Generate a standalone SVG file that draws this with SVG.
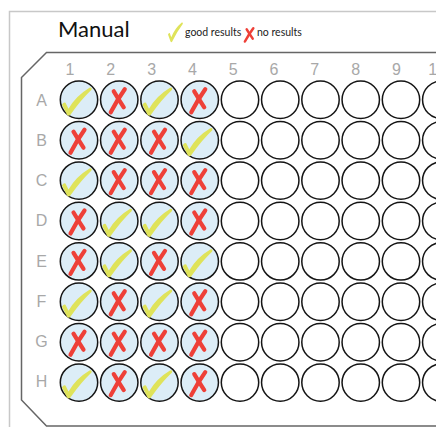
<svg xmlns="http://www.w3.org/2000/svg" xmlns:xlink="http://www.w3.org/1999/xlink" width="436" height="427" viewBox="0 0 436 427">
<style>
.frame{fill:none;stroke:#c8c8c8;stroke-width:1.5}
.plate{fill:none;stroke:#666;stroke-width:1.5}
.w{fill:#fff;stroke:#151515;stroke-width:1.5}
.f{fill:#dcedf7;stroke:#151515;stroke-width:1.5}
.lbl{font-family:"Liberation Sans",Arial,sans-serif;font-size:16px;fill:#a8a8a8;text-anchor:middle}
.title{font-family:Lato,"Open Sans",sans-serif;font-size:22px;fill:#111}
.leg{font-family:Lato,"Open Sans",sans-serif;font-size:10.5px;fill:#222}
.xs{fill:none;stroke:#ee4038;stroke-width:4.2;stroke-linecap:round}
.ck{fill:#dfe35a}
</style>
<defs>
<g id="check"><path class="ck" d="M -17 5 Q -15.5 2 -13.5 3 L -10.5 9 Q -3 -4 10.5 -12 Q 13.5 -13 12.5 -10 Q 2 0 -7.5 13.5 Q -9.5 17.5 -12 15 Z"/></g>
<g id="cross"><path class="xs" d="M 5.5 -10.5 Q -2 0 -8.5 12.5"/><path class="xs" d="M -5.5 -8.5 Q -1 -1 4.5 7.5"/></g>
</defs>
<rect class="frame" x="9.5" y="11.5" width="440" height="430"/>
<g id="title"><text class="title" x="58" y="36.7">Manual</text></g>
<g id="legend">
<use xlink:href="#check" transform="translate(176.5,31) scale(0.5,0.7)"/>
<text class="leg" x="185" y="36">good results</text>
<use xlink:href="#cross" transform="translate(250,34.3) scale(0.6,0.58)"/>
<text class="leg" x="257" y="36">no results</text>
</g>
<g id="plate"><path class="plate" d="M 445 52.5 L 46.5 52.5 L 21.5 77.5 L 21.5 400 L 46.5 426 L 445 426"/></g>
<g id="col-labels">
<text class="lbl" x="70" y="74.5">1</text><text class="lbl" x="110.8" y="74.5">2</text><text class="lbl" x="151.6" y="74.5">3</text><text class="lbl" x="192.4" y="74.5">4</text><text class="lbl" x="233.2" y="74.5">5</text><text class="lbl" x="274" y="74.5">6</text><text class="lbl" x="314.8" y="74.5">7</text><text class="lbl" x="355.6" y="74.5">8</text><text class="lbl" x="396.4" y="74.5">9</text><text class="lbl" x="437.2" y="74.5">10</text>
</g>
<g id="row-labels">
<text class="lbl" x="41.5" y="105.7">A</text><text class="lbl" x="41.5" y="145.95">B</text><text class="lbl" x="41.5" y="186.2">C</text><text class="lbl" x="41.5" y="226.45">D</text><text class="lbl" x="41.5" y="266.7">E</text><text class="lbl" x="41.5" y="306.95">F</text><text class="lbl" x="41.5" y="347.2">G</text><text class="lbl" x="41.5" y="387.45">H</text>
</g>
<g id="wells">
<g id="row-A">
<circle class="f" cx="79" cy="99.8" r="18.7"/><circle class="f" cx="119.25" cy="99.8" r="18.7"/><circle class="f" cx="159.5" cy="99.8" r="18.7"/><circle class="f" cx="199.75" cy="99.8" r="18.7"/>
<circle class="w" cx="240" cy="99.8" r="18.7"/><circle class="w" cx="280.25" cy="99.8" r="18.7"/><circle class="w" cx="320.5" cy="99.8" r="18.7"/><circle class="w" cx="360.75" cy="99.8" r="18.7"/><circle class="w" cx="401" cy="99.8" r="18.7"/><circle class="w" cx="441.25" cy="99.8" r="18.7"/>
<use xlink:href="#check" x="79" y="99.8"/><use xlink:href="#cross" x="119.25" y="99.8"/><use xlink:href="#check" x="159.5" y="99.8"/><use xlink:href="#cross" x="199.75" y="99.8"/>
</g>
<g id="row-B">
<circle class="f" cx="79" cy="140.2" r="18.7"/><circle class="f" cx="119.25" cy="140.2" r="18.7"/><circle class="f" cx="159.5" cy="140.2" r="18.7"/><circle class="f" cx="199.75" cy="140.2" r="18.7"/>
<circle class="w" cx="240" cy="140.2" r="18.7"/><circle class="w" cx="280.25" cy="140.2" r="18.7"/><circle class="w" cx="320.5" cy="140.2" r="18.7"/><circle class="w" cx="360.75" cy="140.2" r="18.7"/><circle class="w" cx="401" cy="140.2" r="18.7"/><circle class="w" cx="441.25" cy="140.2" r="18.7"/>
<use xlink:href="#cross" x="79" y="140.2"/><use xlink:href="#cross" x="119.25" y="140.2"/><use xlink:href="#cross" x="159.5" y="140.2"/><use xlink:href="#check" x="199.75" y="140.2"/>
</g>
<g id="row-C">
<circle class="f" cx="79" cy="180.6" r="18.7"/><circle class="f" cx="119.25" cy="180.6" r="18.7"/><circle class="f" cx="159.5" cy="180.6" r="18.7"/><circle class="f" cx="199.75" cy="180.6" r="18.7"/>
<circle class="w" cx="240" cy="180.6" r="18.7"/><circle class="w" cx="280.25" cy="180.6" r="18.7"/><circle class="w" cx="320.5" cy="180.6" r="18.7"/><circle class="w" cx="360.75" cy="180.6" r="18.7"/><circle class="w" cx="401" cy="180.6" r="18.7"/><circle class="w" cx="441.25" cy="180.6" r="18.7"/>
<use xlink:href="#check" x="79" y="180.6"/><use xlink:href="#cross" x="119.25" y="180.6"/><use xlink:href="#cross" x="159.5" y="180.6"/><use xlink:href="#cross" x="199.75" y="180.6"/>
</g>
<g id="row-D">
<circle class="f" cx="79" cy="221" r="18.7"/><circle class="f" cx="119.25" cy="221" r="18.7"/><circle class="f" cx="159.5" cy="221" r="18.7"/><circle class="f" cx="199.75" cy="221" r="18.7"/>
<circle class="w" cx="240" cy="221" r="18.7"/><circle class="w" cx="280.25" cy="221" r="18.7"/><circle class="w" cx="320.5" cy="221" r="18.7"/><circle class="w" cx="360.75" cy="221" r="18.7"/><circle class="w" cx="401" cy="221" r="18.7"/><circle class="w" cx="441.25" cy="221" r="18.7"/>
<use xlink:href="#cross" x="79" y="221"/><use xlink:href="#check" x="119.25" y="221"/><use xlink:href="#check" x="159.5" y="221"/><use xlink:href="#cross" x="199.75" y="221"/>
</g>
<g id="row-E">
<circle class="f" cx="79" cy="261.4" r="18.7"/><circle class="f" cx="119.25" cy="261.4" r="18.7"/><circle class="f" cx="159.5" cy="261.4" r="18.7"/><circle class="f" cx="199.75" cy="261.4" r="18.7"/>
<circle class="w" cx="240" cy="261.4" r="18.7"/><circle class="w" cx="280.25" cy="261.4" r="18.7"/><circle class="w" cx="320.5" cy="261.4" r="18.7"/><circle class="w" cx="360.75" cy="261.4" r="18.7"/><circle class="w" cx="401" cy="261.4" r="18.7"/><circle class="w" cx="441.25" cy="261.4" r="18.7"/>
<use xlink:href="#cross" x="79" y="261.4"/><use xlink:href="#check" x="119.25" y="261.4"/><use xlink:href="#cross" x="159.5" y="261.4"/><use xlink:href="#check" x="199.75" y="261.4"/>
</g>
<g id="row-F">
<circle class="f" cx="79" cy="301.8" r="18.7"/><circle class="f" cx="119.25" cy="301.8" r="18.7"/><circle class="f" cx="159.5" cy="301.8" r="18.7"/><circle class="f" cx="199.75" cy="301.8" r="18.7"/>
<circle class="w" cx="240" cy="301.8" r="18.7"/><circle class="w" cx="280.25" cy="301.8" r="18.7"/><circle class="w" cx="320.5" cy="301.8" r="18.7"/><circle class="w" cx="360.75" cy="301.8" r="18.7"/><circle class="w" cx="401" cy="301.8" r="18.7"/><circle class="w" cx="441.25" cy="301.8" r="18.7"/>
<use xlink:href="#check" x="79" y="301.8"/><use xlink:href="#cross" x="119.25" y="301.8"/><use xlink:href="#check" x="159.5" y="301.8"/><use xlink:href="#cross" x="199.75" y="301.8"/>
</g>
<g id="row-G">
<circle class="f" cx="79" cy="342.2" r="18.7"/><circle class="f" cx="119.25" cy="342.2" r="18.7"/><circle class="f" cx="159.5" cy="342.2" r="18.7"/><circle class="f" cx="199.75" cy="342.2" r="18.7"/>
<circle class="w" cx="240" cy="342.2" r="18.7"/><circle class="w" cx="280.25" cy="342.2" r="18.7"/><circle class="w" cx="320.5" cy="342.2" r="18.7"/><circle class="w" cx="360.75" cy="342.2" r="18.7"/><circle class="w" cx="401" cy="342.2" r="18.7"/><circle class="w" cx="441.25" cy="342.2" r="18.7"/>
<use xlink:href="#cross" x="79" y="342.2"/><use xlink:href="#cross" x="119.25" y="342.2"/><use xlink:href="#cross" x="159.5" y="342.2"/><use xlink:href="#cross" x="199.75" y="342.2"/>
</g>
<g id="row-H">
<circle class="f" cx="79" cy="382.6" r="18.7"/><circle class="f" cx="119.25" cy="382.6" r="18.7"/><circle class="f" cx="159.5" cy="382.6" r="18.7"/><circle class="f" cx="199.75" cy="382.6" r="18.7"/>
<circle class="w" cx="240" cy="382.6" r="18.7"/><circle class="w" cx="280.25" cy="382.6" r="18.7"/><circle class="w" cx="320.5" cy="382.6" r="18.7"/><circle class="w" cx="360.75" cy="382.6" r="18.7"/><circle class="w" cx="401" cy="382.6" r="18.7"/><circle class="w" cx="441.25" cy="382.6" r="18.7"/>
<use xlink:href="#check" x="79" y="382.6"/><use xlink:href="#cross" x="119.25" y="382.6"/><use xlink:href="#check" x="159.5" y="382.6"/><use xlink:href="#cross" x="199.75" y="382.6"/>
</g>
</g>
</svg>
